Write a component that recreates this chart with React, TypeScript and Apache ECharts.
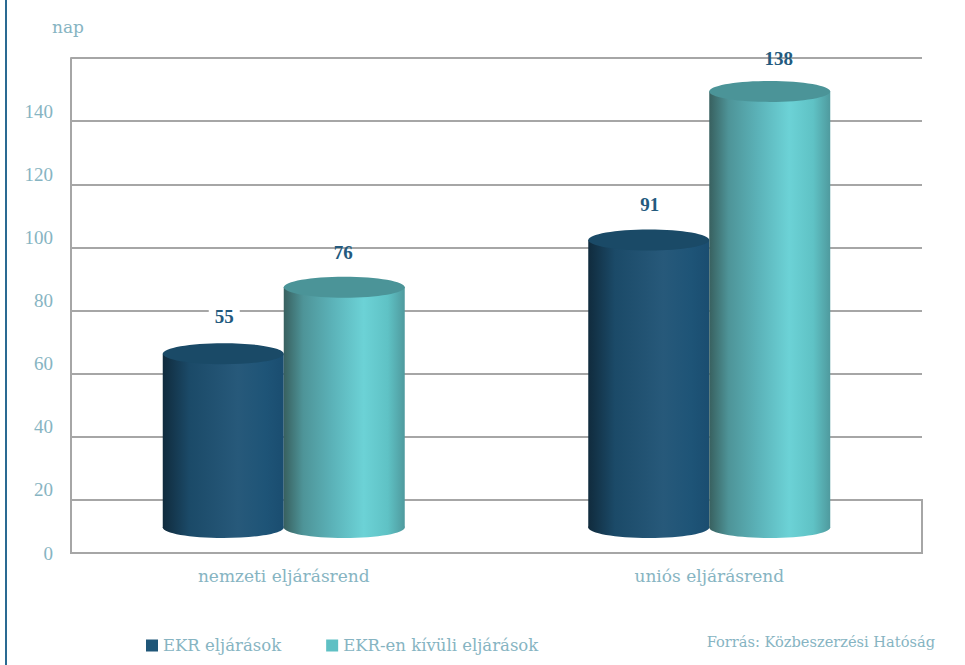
import React, { useEffect, useRef } from "react";
import * as echarts from "echarts";

const categories = ["nemzeti eljárásrend", "uniós eljárásrend"];
const ekrValues = [55, 91];
const otherValues = [76, 138];
const axisTicks = { min: 0, max: 140, step: 20 };
const seriesNames = ["EKR eljárások", "EKR-en kívüli eljárások"];
const unitLabel = "nap";
const sourceNote = "Forrás: Közbeszerzési Hatóság";

const FONT = '"DejaVu Serif", serif';
const NUMBER_FONT = '"Liberation Serif", serif';
const LINE = "#a6a6a6";
const MUTED = "#86b4c2";
const VALUE_INK = "#235a7e";

const blueShade = [
  [0, "#102b3d"],
  [0.22, "#1b4a68"],
  [0.62, "#27597a"],
  [0.85, "#1e5477"],
  [1, "#1a4d70"],
];
const tealShade = [
  [0, "#38605f"],
  [0.16, "#4e9498"],
  [0.4, "#5bb2b8"],
  [0.66, "#6cd2d6"],
  [0.86, "#5fc2c5"],
  [1, "#4f9a9e"],
];

const stops = (shade: (number | string)[][]) =>
  shade.map(([offset, color]) => ({ offset: offset as number, color: color as string }));

// One cylinder per category: a shaded body closed by a rounded base and a flat-coloured cap.
function cylinderSeries(
  name: string,
  values: number[],
  side: number,
  shade: (number | string)[][],
  capColor: string,
  swatch: string,
  labelStyle: (index: number) => { dx: number; dy: number; plate: boolean },
) {
  const halfWidth = 60.5;
  const capRy = 10.5;
  return {
    type: "custom",
    name,
    xAxisIndex: 2,
    yAxisIndex: 2,
    itemStyle: { color: swatch },
    encode: { x: 0, y: 1 },
    data: values.map((v, i) => [i, v]),
    renderItem: (_params: any, api: any) => {
      const index = api.value(0);
      const value = api.value(1);
      const [cx0, top] = api.coord([index, value]);
      const [, base] = api.coord([index, 0]);
      const cx = cx0 + side * halfWidth;
      const gradient = () => new echarts.graphic.LinearGradient(0, 0, 1, 0, stops(shade));
      const { dx, dy, plate } = labelStyle(index);
      return {
        type: "group",
        children: [
          {
            type: "ellipse",
            shape: { cx, cy: base, rx: halfWidth, ry: capRy },
            style: { fill: gradient() },
          },
          {
            type: "rect",
            shape: { x: cx - halfWidth, y: top, width: halfWidth * 2, height: base - top },
            style: { fill: gradient() },
          },
          {
            type: "ellipse",
            shape: { cx, cy: top, rx: halfWidth, ry: capRy },
            style: { fill: capColor },
          },
          {
            type: "text",
            z2: 10,
            style: {
              text: String(value),
              x: cx + dx,
              y: top - 35 + dy,
              align: "center",
              verticalAlign: "middle",
              fill: VALUE_INK,
              font: `bold 19px ${NUMBER_FONT}`,
              backgroundColor: plate ? "#ffffff" : "transparent",
              padding: plate ? [0, 6] : 0,
            },
          },
        ],
      };
    },
  };
}

export default function App() {
  const ref = useRef<HTMLDivElement>(null);

  useEffect(() => {
    const chart = echarts.init(ref.current!, null, { renderer: "svg" });
    const gridX = { left: 71, width: 851 };
    const range = { min: axisTicks.min, max: axisTicks.max, interval: axisTicks.step };

    chart.setOption({
      animation: false,
      backgroundColor: "#ffffff",
      // Back wall, front edge and the plane the cylinders stand on share one value range.
      grid: [
        { ...gridX, top: 58, height: 442 },
        { ...gridX, top: 111, height: 442 },
        { ...gridX, top: 85.1, height: 442.4 },
      ],
      xAxis: [0, 1, 2].map((gridIndex) => ({
        type: "category",
        gridIndex,
        data: categories,
        show: gridIndex === 1,
        axisLine: { show: false },
        axisTick: { show: false },
        axisLabel: { color: MUTED, fontFamily: FONT, fontSize: 17, margin: 14 },
      })),
      yAxis: [
        {
          type: "value",
          gridIndex: 0,
          ...range,
          axisLine: { show: true, lineStyle: { color: LINE, width: 2 } },
          axisTick: { show: false },
          axisLabel: { show: false },
          splitLine: { show: true, lineStyle: { color: LINE, width: 2 } },
        },
        {
          type: "value",
          gridIndex: 1,
          ...range,
          axisLine: { show: false },
          axisTick: { show: false },
          splitLine: { show: false },
          axisLabel: { color: MUTED, fontFamily: NUMBER_FONT, fontSize: 19, margin: 18 },
        },
        {
          type: "value",
          gridIndex: 2,
          ...range,
          show: false,
          splitLine: { show: false },
        },
      ],
      legend: {
        left: 146,
        top: 637,
        padding: 0,
        icon: "rect",
        itemWidth: 12,
        itemHeight: 12,
        itemGap: 45,
        textStyle: { color: MUTED, fontFamily: FONT, fontSize: 16.5 },
        data: seriesNames,
      },
      series: [
        cylinderSeries(seriesNames[0], ekrValues, -1, blueShade, "#1a4a67", "#1f5678", (i) => ({
          dx: 1,
          dy: i === 0 ? -2 : 0,
          plate: i === 0,
        })),
        cylinderSeries(seriesNames[1], otherValues, 1, tealShade, "#4b9498", "#5fc0c4", (i) => ({
          dx: i === 1 ? 9 : -1,
          dy: i === 1 ? 2 : 0,
          plate: false,
        })),
      ],
      graphic: [
        {
          type: "rect",
          z: 0,
          shape: { x: 5, y: 0, width: 2, height: 665 },
          style: { fill: "#2a6a92" },
        },
        {
          type: "rect",
          z: 0,
          shape: { x: 71, y: 500, width: 851, height: 53 },
          style: { fill: "none", stroke: LINE, lineWidth: 2 },
        },
        {
          type: "text",
          z: 5,
          x: 52,
          y: 27,
          style: {
            text: unitLabel,
            fill: MUTED,
            font: `17px ${FONT}`,
            verticalAlign: "middle",
          },
        },
        {
          type: "text",
          z: 5,
          x: 935,
          y: 641,
          style: {
            text: sourceNote,
            fill: MUTED,
            font: `14.6px ${FONT}`,
            align: "right",
            verticalAlign: "middle",
          },
        },
      ],
    });

    return () => chart.dispose();
  }, []);

  return (
    <div
      ref={ref}
      style={{ position: "absolute", left: 0, top: 0, width: 965, height: 665 }}
    />
  );
}
